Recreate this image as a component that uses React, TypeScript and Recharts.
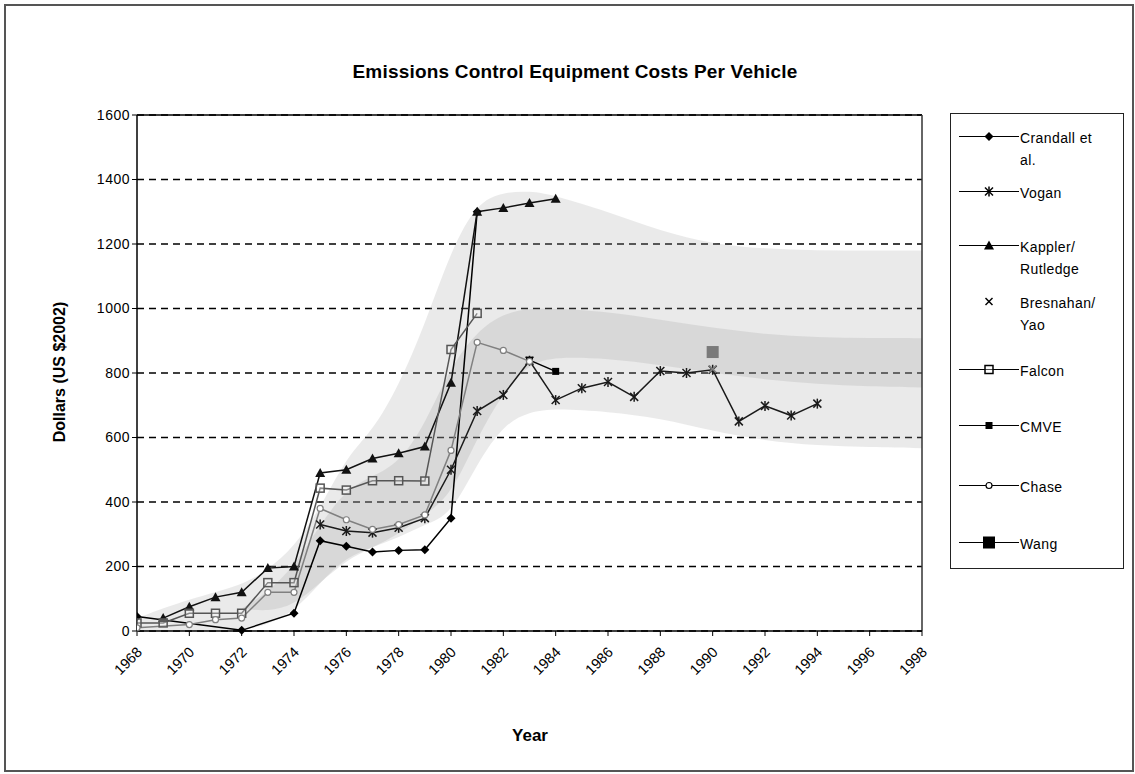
import React from "react";
import { ComposedChart, Line, Area, XAxis, YAxis, CartesianGrid, ReferenceLine } from "recharts";

type Pt = [number, number];
type Band = [number, number, number];

const xTicks = [1968, 1970, 1972, 1974, 1976, 1978, 1980, 1982, 1984, 1986, 1988, 1990, 1992, 1994, 1996, 1998];
const yTicks = [0, 200, 400, 600, 800, 1000, 1200, 1400, 1600];

// [year, dollars]
const crandall: Pt[] = [[1968, 45], [1972, 2], [1974, 55], [1975, 280], [1976, 263], [1977, 245], [1978, 250], [1979, 252], [1980, 350], [1981, 1300]];
const vogan: Pt[] = [[1975, 330], [1976, 310], [1977, 305], [1978, 320], [1979, 350], [1980, 500], [1981, 682], [1982, 732], [1983, 838], [1984, 716], [1985, 753], [1986, 772], [1987, 726], [1988, 806], [1989, 800], [1990, 810], [1991, 650], [1992, 698], [1993, 668], [1994, 705]];
const kappler: Pt[] = [[1969, 40], [1970, 75], [1971, 105], [1972, 120], [1973, 195], [1974, 200], [1975, 490], [1976, 500], [1977, 535], [1978, 551], [1979, 572], [1980, 770], [1981, 1300], [1982, 1312], [1983, 1327], [1984, 1340]];
const bresnahan: Pt[] = [[1990, 812]];
const falcon: Pt[] = [[1968, 25], [1969, 25], [1970, 55], [1971, 55], [1972, 55], [1973, 150], [1974, 150], [1975, 443], [1976, 437], [1977, 466], [1978, 466], [1979, 465], [1980, 873], [1981, 985]];
const cmve: Pt[] = [[1983, 840], [1984, 805]];
const chase: Pt[] = [[1968, 10], [1970, 20], [1971, 35], [1972, 40], [1973, 120], [1974, 120], [1975, 380], [1976, 345], [1977, 315], [1978, 330], [1979, 360], [1980, 560], [1981, 895], [1982, 870], [1983, 836]];
const wang: Pt[] = [[1990, 865]];

// shaded ranges [year, low, high]
const outerBand: Band[] = [[1968, 0, 40], [1970, 0, 100], [1972, 0, 140], [1973, 20, 190], [1974, 60, 260], [1975, 150, 380], [1976, 230, 540], [1977, 260, 620], [1978, 290, 760], [1979, 330, 950], [1980, 360, 1180], [1981, 520, 1330], [1982, 640, 1360], [1983, 680, 1365], [1984, 690, 1350], [1986, 680, 1300], [1988, 660, 1240], [1990, 620, 1200], [1992, 590, 1185], [1994, 575, 1180], [1996, 570, 1180], [1998, 567, 1180]];
const innerBand: Band[] = [[1972, 70, 70], [1973, 60, 120], [1974, 80, 200], [1975, 150, 330], [1976, 220, 440], [1977, 260, 480], [1978, 300, 520], [1979, 360, 640], [1980, 420, 820], [1981, 600, 930], [1982, 740, 985], [1983, 830, 1000], [1984, 850, 1000], [1986, 845, 990], [1988, 825, 965], [1990, 800, 940], [1992, 780, 920], [1994, 765, 910], [1996, 758, 908], [1998, 755, 908]];

type Shape = "diamond" | "star" | "triangle" | "x" | "openSquare" | "square" | "circle" | "bigSquare";

const series: { name: string[]; data: Pt[]; color: string; shape: Shape; line: boolean }[] = [
  { name: ["Crandall et", "al."], data: crandall, color: "#000", shape: "diamond", line: true },
  { name: ["Vogan"], data: vogan, color: "#1a1a1a", shape: "star", line: true },
  { name: ["Kappler/", "Rutledge"], data: kappler, color: "#111", shape: "triangle", line: true },
  { name: ["Bresnahan/", "Yao"], data: bresnahan, color: "#808080", shape: "x", line: false },
  { name: ["Falcon"], data: falcon, color: "#555", shape: "openSquare", line: true },
  { name: ["CMVE"], data: cmve, color: "#000", shape: "square", line: true },
  { name: ["Chase"], data: chase, color: "#808080", shape: "circle", line: true },
  { name: ["Wang"], data: wang, color: "#7a7a7a", shape: "bigSquare", line: true },
];

const FONT = "'Liberation Sans', Arial, sans-serif";

function Marker({ shape, x, y, color }: { shape: Shape; x: number; y: number; color: string }) {
  switch (shape) {
    case "diamond":
      return <path d={`M${x},${y - 4.5}L${x + 4.5},${y}L${x},${y + 4.5}L${x - 4.5},${y}Z`} fill={color} />;
    case "triangle":
      return <path d={`M${x},${y - 5}L${x + 5},${y + 4}L${x - 5},${y + 4}Z`} fill={color} />;
    case "star":
      return (
        <g stroke={color} strokeWidth={1.5}>
          <line x1={x - 4} y1={y - 4} x2={x + 4} y2={y + 4} />
          <line x1={x - 4} y1={y + 4} x2={x + 4} y2={y - 4} />
          <line x1={x} y1={y - 5} x2={x} y2={y + 5} />
        </g>
      );
    case "x":
      return (
        <g stroke={color} strokeWidth={1.5}>
          <line x1={x - 3.5} y1={y - 3.5} x2={x + 3.5} y2={y + 3.5} />
          <line x1={x - 3.5} y1={y + 3.5} x2={x + 3.5} y2={y - 3.5} />
        </g>
      );
    case "openSquare":
      return <rect x={x - 4} y={y - 4} width={8} height={8} fill="#fff" fillOpacity={0.3} stroke={color} strokeWidth={1.5} />;
    case "square":
      return <rect x={x - 3.5} y={y - 3.5} width={7} height={7} fill={color} />;
    case "bigSquare":
      return <rect x={x - 6} y={y - 6} width={12} height={12} fill={color} />;
    case "circle":
      return <circle cx={x} cy={y} r={3} fill="#fff" stroke={color} strokeWidth={1.2} />;
  }
}

function YearTick(props: any) {
  const { x, y, payload } = props;
  const tx = x + 6;
  const ty = y + 15;
  return (
    <text x={tx} y={ty} transform={`rotate(-45, ${tx}, ${ty})`} textAnchor="end" fontSize={14.5} fontFamily={FONT} fill="#000">
      {payload.value}
    </text>
  );
}

function LegendBox() {
  const rows = [135, 190, 244, 300, 368, 424, 484, 541];
  return (
    <div style={{ position: "absolute", left: 950, top: 113, width: 172, height: 454, border: "1.5px solid #222", background: "#fff", fontFamily: FONT, fontSize: 14 }}>
      {series.map((s, i) => (
        <div key={s.name[0]} style={{ position: "absolute", left: 0, top: rows[i] - 113 - 10, width: 172 }}>
          <svg width={70} height={20} style={{ position: "absolute", left: 6, top: 0 }}>
            {s.shape !== "x" && <line x1={2} y1={10.5} x2={62} y2={10.5} stroke="#000" strokeWidth={1} />}
            <Marker shape={s.shape} x={32} y={10.5} color="#000" />
          </svg>
          <div style={{ position: "absolute", left: 69, top: 1, lineHeight: "22px", letterSpacing: 0.4 }}>
            {s.name.map((n) => (
              <div key={n}>{n}</div>
            ))}
          </div>
        </div>
      ))}
    </div>
  );
}

const toRows = (pts: Pt[]) => pts.map(([year, v]) => ({ year, v }));
const toBand = (pts: Band[]) => pts.map(([year, lo, hi]) => ({ year, range: [lo, hi] }));

export default function App() {
  return (
    <div style={{ position: "absolute", left: 0, top: 0, width: 1135, height: 774, background: "#fff", fontFamily: FONT }}>
      <div style={{ position: "absolute", left: 4, top: 4, width: 1126, height: 764, border: "2px solid #555" }} />
      <div style={{ position: "absolute", left: 0, top: 61, width: 1150, textAlign: "center", fontSize: 19, fontWeight: "bold", letterSpacing: 0.2 }}>
        Emissions Control Equipment Costs Per Vehicle
      </div>
      <div style={{ position: "absolute", left: 60, top: 372, transform: "translate(-50%, -50%) rotate(-90deg)", whiteSpace: "nowrap", fontSize: 16, fontWeight: "bold" }}>
        Dollars (US $2002)
      </div>
      <div style={{ position: "absolute", left: 530, top: 736, transform: "translate(-50%, -50%)", fontSize: 17, fontWeight: "bold" }}>
        Year
      </div>
      <div style={{ position: "absolute", left: 0, top: 0 }}>
        <ComposedChart width={1135} height={774} margin={{ top: 115, right: 213, bottom: 83, left: 77 }}>
          <CartesianGrid horizontal vertical={false} stroke="#000" strokeWidth={1.3} strokeDasharray="7 5" />
          <XAxis
            dataKey="year"
            type="number"
            domain={[1968, 1998]}
            ticks={xTicks}
            interval={0}
            height={60}
            tick={<YearTick />}
            tickSize={5}
            axisLine={{ stroke: "#000", strokeWidth: 1.5 }}
            tickLine={{ stroke: "#000" }}
            allowDataOverflow
          />
          <YAxis
            type="number"
            domain={[0, 1600]}
            ticks={yTicks}
            interval={0}
            width={60}
            tickSize={5}
            tick={{ fontSize: 14, fill: "#000", fontFamily: FONT, letterSpacing: 0.5 }}
            axisLine={{ stroke: "#000", strokeWidth: 1.5 }}
            tickLine={{ stroke: "#000" }}
          />
          <Area data={toBand(outerBand)} dataKey="range" type="basis" stroke="none" fill="#a8a8a8" fillOpacity={0.24} isAnimationActive={false} />
          <Area data={toBand(innerBand)} dataKey="range" type="basis" stroke="none" fill="#9a9a9a" fillOpacity={0.22} isAnimationActive={false} />
          <ReferenceLine y={1600} stroke="#000" strokeWidth={1.3} />
          <ReferenceLine x={1998} stroke="#333" strokeWidth={1.5} />
          {series.map((s) => (
            <Line
              key={s.name[0]}
              data={toRows(s.data)}
              dataKey="v"
              type="linear"
              stroke={s.line ? s.color : "none"}
              strokeWidth={1.5}
              connectNulls
              dot={(p: any) =>
                p.cx == null || p.cy == null ? <g key={`${s.name[0]}-${p.index}`} /> : (
                  <g key={`${s.name[0]}-${p.index}`}>
                    <Marker shape={s.shape} x={p.cx} y={p.cy} color={s.color} />
                  </g>
                )
              }
              activeDot={false}
              isAnimationActive={false}
            />
          ))}
        </ComposedChart>
      </div>
      <LegendBox />
    </div>
  );
}
